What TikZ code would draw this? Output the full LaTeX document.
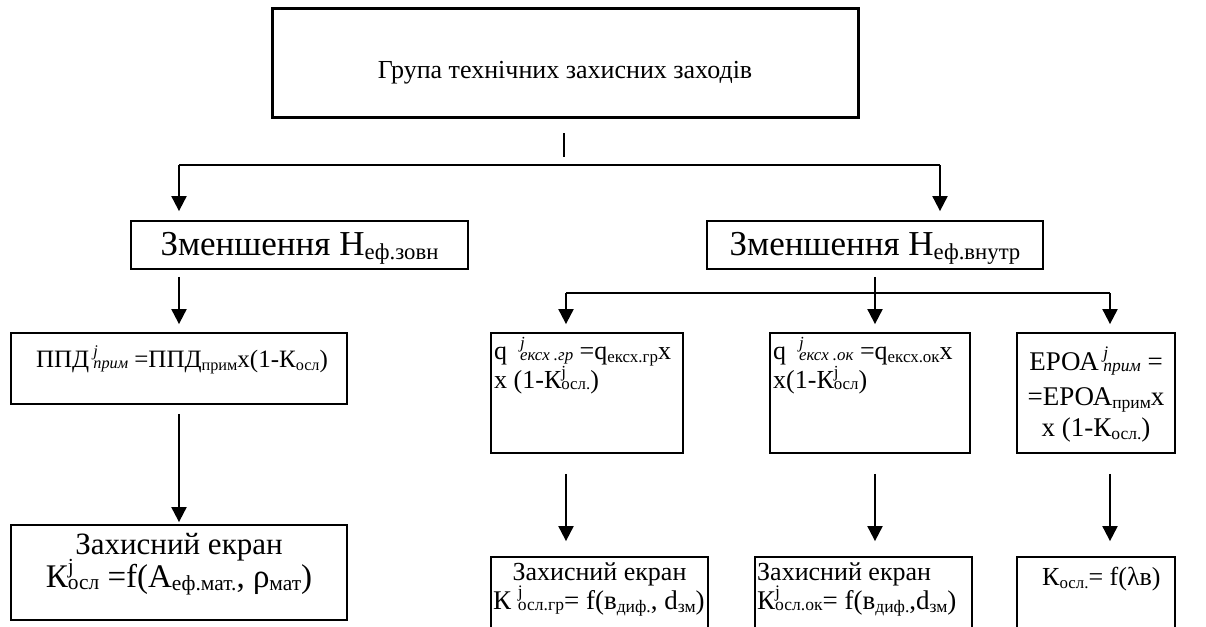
\documentclass[tikz,border=0pt]{standalone}
\usepackage{fontspec}
\setmainfont{Liberation Serif}
\usetikzlibrary{arrows.meta}

% font size in pt (one picture unit = 1pt)
\newcommand\fsz[1]{\fontsize{#1}{#1}\selectfont}
% script-size font: 0.65 of the current size
\newdimen\scrdim
\makeatletter
\newcommand\scr{\scrdim=\f@size pt\scrdim=0.65\scrdim
  \fontsize{\strip@pt\scrdim}{\strip@pt\scrdim}\selectfont}
\makeatother
% plain subscript, and superscript stacked over subscript
\newcommand\sbt[1]{\raisebox{-0.12em}{\scr #1}}
\newcommand\sst[2]{\rlap{\raisebox{0.42em}{\scr #1}}\raisebox{-0.07em}{\scr #2}}

\begin{document}
\begin{tikzpicture}[x=1pt, y=-1pt,
  box/.style={draw, line width=1.8pt, inner sep=0pt},
  topbox/.style={box, line width=3pt},
  lbl/.style={inner sep=0pt, anchor=base},
  lblw/.style={inner sep=0pt, anchor=base west},
  link/.style={line width=2pt},
  arr/.style={line width=2pt, -{Triangle[width=15pt,length=15pt]}},
]
\useasboundingbox (0,0) rectangle (1206,626);

% boxes
\node[topbox, minimum width=586pt, minimum height=108pt] (top) at (565,63) {};
\node[box, minimum width=337pt, minimum height=48pt] (zl) at (299.5,245) {};
\node[box, minimum width=336pt, minimum height=48pt] (zr) at (875,245) {};
\node[box, minimum width=336pt, minimum height=71pt] (ppd) at (179,368.5) {};
\node[box, minimum width=336pt, minimum height=95pt] (scl) at (179,572.5) {};
\node[box, minimum width=192pt, minimum height=120pt] (qgr) at (587,393) {};
\node[box, minimum width=200pt, minimum height=120pt] (qok) at (870,393) {};
\node[box, minimum width=158pt, minimum height=120pt] (eroa) at (1096,393) {};
% lower boxes run past the bottom edge of the page
\node[box, minimum width=217pt, minimum height=90pt] (sgr) at (599.5,602) {};
\node[box, minimum width=217pt, minimum height=90pt] (sok) at (863.5,602) {};
\node[box, minimum width=158pt, minimum height=90pt] (sks) at (1096,602) {};

% connectors
\coordinate (st) at (564,133);
\coordinate (sb) at (564,157);
\coordinate (hl) at (179,165);
\coordinate (hr) at (940,165);
\coordinate (bl) at (566,293);
\coordinate (br) at (1110,293);
\draw[link] (st) -- (sb);
\draw[link] (hl) -- (hr);
\draw[arr, shorten >=9pt] (hl) -- (hl |- zl.north);
\draw[arr, shorten >=9pt] (hr) -- (hr |- zr.north);
\draw[arr, shorten <=7pt, shorten >=8pt] (zl.south -| hl) -- (ppd.north -| hl);
\draw[arr, shorten <=9pt, shorten >=2pt] (ppd.south -| hl) -- (scl.north -| hl);
\draw[link] (bl) -- (br);
\draw[arr, shorten <=7pt, shorten >=8pt] (zr.south) -- (zr.south |- qok.north);
\draw[arr, shorten >=8pt] (bl) -- (bl |- qgr.north);
\draw[arr, shorten >=8pt] (br) -- (br |- eroa.north);
\draw[arr, shorten <=20pt, shorten >=15pt] (qgr.south -| bl) -- (sgr.north -| bl);
\draw[arr, shorten <=20pt, shorten >=15pt] (qok.south -| zr.south) -- (sok.north -| zr.south);
\draw[arr, shorten <=20pt, shorten >=15pt] (eroa.south -| br) -- (sks.north -| br);

% texts
\node[lbl, font=\fsz{26}] (t0) at (565,78) {Група технічних захисних заходів};
\node[lbl, font=\fsz{35}] (t1) at (299.5,255) {Зменшення Н\sbt{еф.зовн}};
\node[lbl, font=\fsz{35}] (t2) at (875,255) {Зменшення Н\sbt{еф.внутр}};
\node[lbl, font=\fsz{25}] (t3) at (182,367) {ППД\,\sst{\itshape j}{\itshape прим} =ППД\sbt{прим}х(1-К\sbt{осл})};
\node[lbl, font=\fsz{31}] (t4) at (179,554) {Захисний екран};
\node[lbl, font=\fsz{33}] (t5) at (179,587) {К\sst{j}{осл} =f(А\sbt{еф.мат.}, ρ\sbt{мат})};
\node[lblw, font=\fsz{26}] (t6) at (494,359) {q\ \ \sst{\itshape j}{\itshape ексх .гр} =q\sbt{ексх.гр}х};
\node[lblw, font=\fsz{26}] (t7) at (494,388) {х (1-К\sst{j}{осл.})};
\node[lblw, font=\fsz{26}] (t8) at (773,359) {q\ \ \sst{\itshape j}{\itshape ексх .ок} =q\sbt{ексх.ок}х};
\node[lblw, font=\fsz{26}] (t9) at (773,388) {х(1-К\sst{j}{осл})};
\node[lbl, font=\fsz{27}] (t10) at (1096,370) {ЕРОА\,\sst{\itshape j}{\itshape прим} =};
\node[lbl, font=\fsz{27}] (t11) at (1096,405) {=ЕРОА\sbt{прим}х};
\node[lbl, font=\fsz{27}] (t12) at (1096,436) {х (1-К\sbt{осл.})};
\node[lbl, font=\fsz{26}] (t13) at (599.5,580) {Захисний екран};
\node[lblw, font=\fsz{27}] (t14) at (493,609) {К \sst{j}{осл.гр}= f(в\sbt{диф.}, d\sbt{зм})};
\node[lblw, font=\fsz{26}] (t15) at (757,580) {Захисний екран};
\node[lblw, font=\fsz{27}] (t16) at (757,609) {К\sst{j}{осл.ок}= f(в\sbt{диф.},d\sbt{зм})};
\node[lblw, font=\fsz{26}] (t17) at (1042,585) {К\sbt{осл.}= f(λв)};
\end{tikzpicture}
\end{document}
